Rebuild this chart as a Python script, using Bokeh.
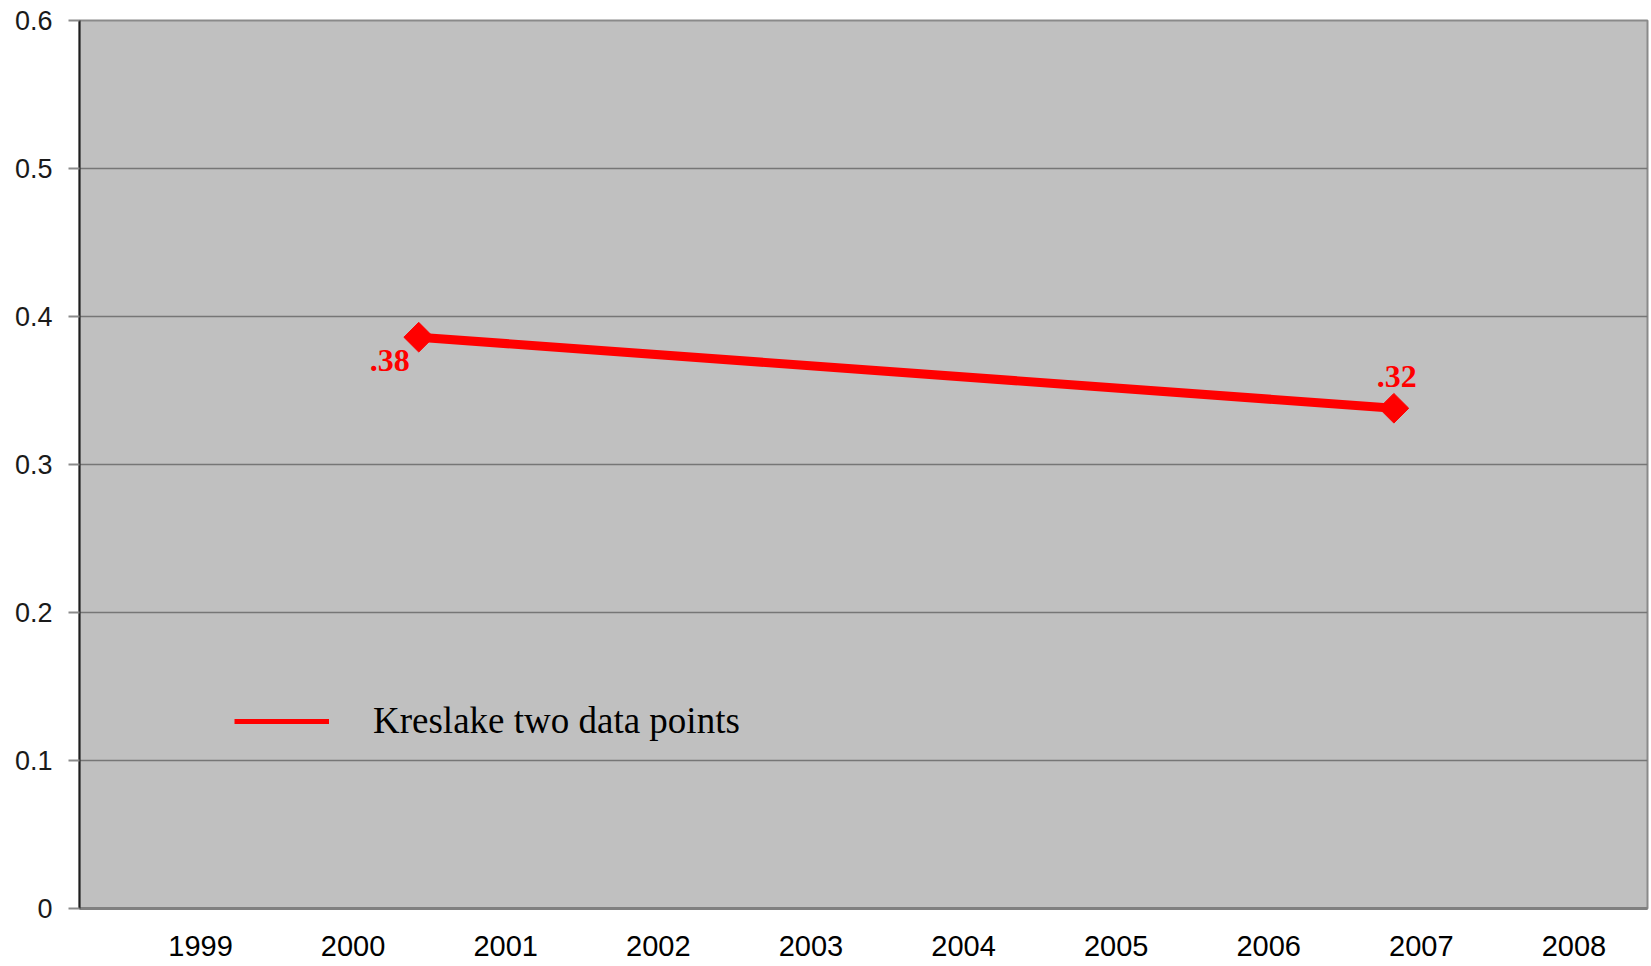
import math
from bokeh.plotting import figure
from bokeh.models import (ColumnDataSource, FixedTicker, Legend, LegendItem,
                          Range1d)
from bokeh.embed import file_html
from bokeh.resources import INLINE

# ---- data ----
year_ticks = [1999, 2000, 2001, 2002, 2003, 2004, 2005, 2006, 2007, 2008]
point_x = [2000.43, 2006.82]          # horizontal position of the two points
point_y = [0.386, 0.338]
point_labels = [".38", ".32"]
series_name = "Kreslake two data points"
y_ticks = [0, 0.1, 0.2, 0.3, 0.4, 0.5, 0.6]

src = ColumnDataSource(dict(x=point_x, y=point_y, label=point_labels,
                            dx=[-29, 3], dy=[23, -32]))

p = figure(width=1649, height=964, output_backend="svg", toolbar_location=None,
           x_range=Range1d(1998.207, 2008.482), y_range=Range1d(0, 0.6),
           min_border_left=79, min_border_top=20, min_border_bottom=56,
           min_border_right=2)

p.background_fill_color = "#C0C0C0"
p.border_fill_color = "white"
p.outline_line_color = "#8a8a8a"
p.outline_line_width = 2

# grid
p.xgrid.grid_line_color = None
p.ygrid.grid_line_color = "#767676"
p.ygrid.grid_line_width = 1.5
p.ygrid.ticker = FixedTicker(ticks=y_ticks)

# y axis
p.yaxis.ticker = FixedTicker(ticks=y_ticks)
p.yaxis.major_label_overrides = {0: "0"}
p.yaxis.axis_line_color = "#1e1e1e"
p.yaxis.axis_line_width = 2
p.yaxis.major_tick_line_color = "#8a8a8a"
p.yaxis.major_tick_line_width = 2
p.yaxis.major_tick_out = 11
p.yaxis.major_tick_in = 0
p.yaxis.minor_tick_line_color = None
p.yaxis.major_label_text_font = "Liberation Sans"
p.yaxis.major_label_text_font_size = "27px"
p.yaxis.major_label_text_color = "#1a1a1a"
p.yaxis.major_label_standoff = 16

# x axis
p.xaxis.ticker = FixedTicker(ticks=year_ticks)
p.xaxis.axis_line_color = "#808080"
p.xaxis.axis_line_width = 3
p.xaxis.major_tick_line_color = None
p.xaxis.minor_tick_line_color = None
p.xaxis.major_label_text_font = "Liberation Sans"
p.xaxis.major_label_text_font_size = "29px"
p.xaxis.major_label_text_color = "black"
p.xaxis.major_label_standoff = 21

# legend-only thin line hidden beneath the main line
legend_line = p.line("x", "y", source=src, line_color="#FF0000", line_width=5)
p.line("x", "y", source=src, line_color="#FF0000", line_width=9)
p.scatter("x", "y", source=src, marker="square", angle=math.pi / 4, size=21,
          fill_color="#FF0000", line_color="#FF0000")

p.text("x", "y", text="label", source=src, x_offset="dx", y_offset="dy",
       text_color="#FF0000", text_font="Liberation Serif",
       text_font_style="bold", text_font_size="32px",
       text_align="center", text_baseline="middle")

legend = Legend(items=[LegendItem(label=series_name, renderers=[legend_line])],
                location=(155, 166), glyph_width=95, glyph_height=40,
                label_height=40, label_standoff=44,
                label_text_font="Liberation Serif", label_text_font_size="37px",
                label_text_color="black", background_fill_alpha=0,
                border_line_color=None, padding=0, margin=0, spacing=0)
p.add_layout(legend)

open("out.html", "w").write(file_html(p, INLINE))
